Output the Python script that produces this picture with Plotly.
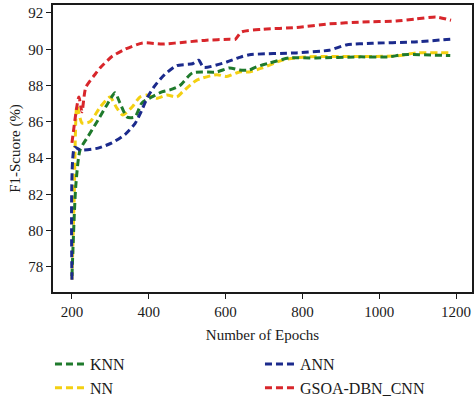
import plotly.graph_objects as go

# Data
knn_x = [200, 210, 221, 242, 268, 294, 312, 325, 343, 364, 382, 408, 434, 455, 481, 514, 577, 610, 636, 662, 680, 714, 766, 836, 948, 1026, 1060, 1185]
knn_y = [77.5, 82.5, 84.45, 85.2, 86.1, 87.04, 87.6, 87.04, 86.27, 86.27, 87.04, 87.37, 87.65, 87.76, 88.0, 88.7, 88.75, 88.97, 88.86, 88.86, 89.03, 89.24, 89.52, 89.52, 89.58, 89.58, 89.7, 89.65]

nn_x = [200, 206, 213, 226, 247, 273, 299, 317, 332, 356, 377, 395, 421, 447, 473, 488, 525, 577, 603, 636, 660, 696, 748, 810, 1044, 1096, 1185]
nn_y = [77.3, 82.0, 86.9, 85.94, 86.0, 86.8, 87.37, 86.75, 86.38, 86.8, 87.37, 87.48, 87.3, 87.48, 87.37, 87.65, 88.3, 88.6, 88.5, 88.75, 88.75, 88.97, 89.4, 89.58, 89.63, 89.8, 89.8]

ann_x = [200, 207, 221, 268, 304, 338, 364, 382, 397, 416, 441, 473, 514, 530, 543, 603, 636, 662, 784, 870, 914, 982, 1086, 1185]
ann_y = [77.3, 84.6, 84.45, 84.55, 84.84, 85.3, 85.9, 86.65, 87.37, 88.0, 88.6, 89.1, 89.2, 89.4, 89.0, 89.3, 89.55, 89.7, 89.8, 89.95, 90.24, 90.33, 90.4, 90.55]

gsoa_x = [200, 218, 226, 236, 265, 273, 304, 338, 384, 436, 498, 550, 610, 625, 641, 696, 784, 870, 956, 1044, 1096, 1148, 1187]
gsoa_y = [84.84, 87.37, 86.55, 87.9, 88.75, 88.97, 89.6, 90.0, 90.35, 90.29, 90.4, 90.5, 90.55, 90.55, 90.95, 91.1, 91.2, 91.4, 91.5, 91.56, 91.67, 91.78, 91.6]

x_ticks = [200, 400, 600, 800, 1000, 1200]
y_ticks = [78, 80, 82, 84, 86, 88, 90, 92]

series = [
    ("NN", nn_x, nn_y, "#f3d012", 3),
    ("KNN", knn_x, knn_y, "#1f7a2c", 1),
    ("ANN", ann_x, ann_y, "#1b2a8c", 2),
    ("GSOA-DBN_CNN", gsoa_x, gsoa_y, "#d8262b", 4),
]

font_fam = "Liberation Serif, DejaVu Serif, serif"
txt = "#1a1a1a"

fig = go.Figure()
for name, xs, ys, col, rank in series:
    fig.add_trace(go.Scatter(
        x=xs, y=ys, mode="lines", name=name, legendrank=rank,
        line=dict(color=col, width=3, dash="7px,4px", shape="spline", smoothing=0.6),
    ))

fig.update_layout(
    width=476, height=398,
    margin=dict(l=53, r=4, t=5, b=106),
    paper_bgcolor="white", plot_bgcolor="white",
    font=dict(family=font_fam, size=15, color=txt),
    showlegend=True,
    legend=dict(
        orientation="h", xref="container", yref="container",
        x=0.105, y=0.128, xanchor="left", yanchor="top",
        entrywidth=165, entrywidthmode="pixels",
        font=dict(family=font_fam, size=16, color=txt),
        itemwidth=30, tracegroupgap=0,
    ),
)
fig.update_xaxes(
    range=[150.6, 1241.6], tickvals=x_ticks, ticks="outside", ticklen=5,
    tickcolor=txt, showline=True, linecolor=txt, linewidth=1.5, mirror=True,
    showgrid=False, zeroline=False, automargin=False,
    tickfont=dict(family=font_fam, size=15, color=txt),
    title=dict(text="Number of Epochs", font=dict(family=font_fam, size=15, color=txt), standoff=11),
)
fig.update_yaxes(
    range=[76.62, 92.44], tickvals=y_ticks, ticks="outside", ticklen=5,
    tickcolor=txt, showline=True, linecolor=txt, linewidth=1.5, mirror=True,
    showgrid=False, zeroline=False, automargin=False,
    tickfont=dict(family=font_fam, size=15, color=txt),
    title=dict(text="F1-Scuore (%)", font=dict(family=font_fam, size=15, color=txt), standoff=4),
)

fig.write_html("out.html", config={"displayModeBar": False},
               post_script="document.body.style.margin='0';")
